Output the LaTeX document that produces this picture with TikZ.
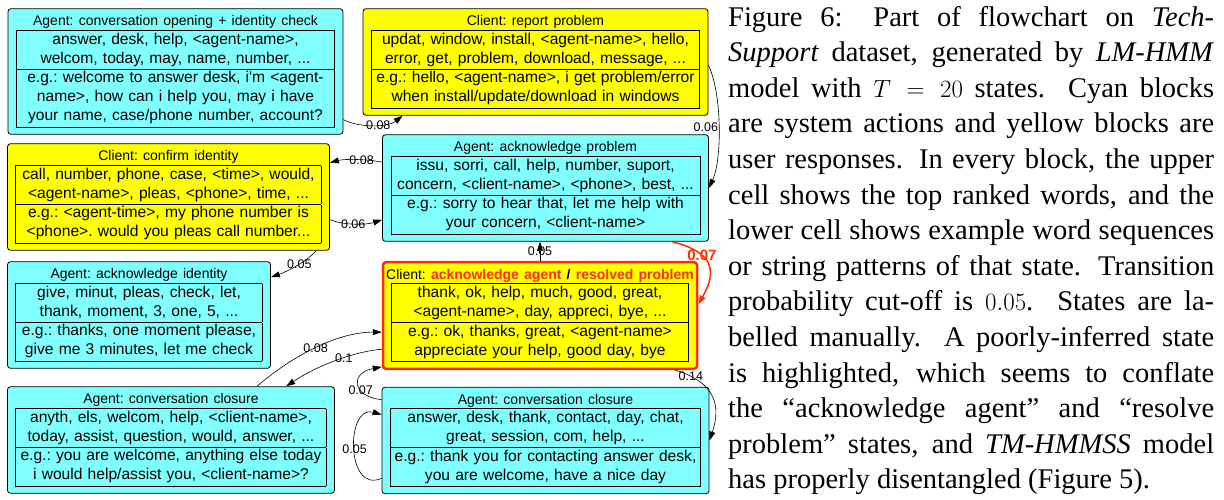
\documentclass[tikz,border=0pt]{standalone}
\usepackage{fontspec}
\setmainfont{Liberation Serif}
\newfontfamily\boxfont{Liberation Sans}
\usepackage{array}
\usetikzlibrary{arrows.meta}

\definecolor{agentcyan}{RGB}{128,255,255}
\definecolor{clientyellow}{RGB}{255,255,0}
\definecolor{flagred}{RGB}{255,45,0}

\setlength{\arrayrulewidth}{0.8pt}
\setlength{\tabcolsep}{1pt}

% title line + two-cell word table of one state
\newcommand{\statecells}[3]{\makebox[\linewidth]{\fontsize{14}{14}\selectfont\rule[-3pt]{0pt}{13.2pt}#1}\\
  \begin{tabular}{|>{\centering\arraybackslash\leftskip=-6pt plus 1fil\rightskip=-6pt plus 1fil}p{\dimexpr\linewidth-2\tabcolsep-2\arrayrulewidth\relax}|}
  \hline #2\\ \hline #3\\ \hline
  \end{tabular}}

\begin{document}
\begin{tikzpicture}[x=1pt, y=-1pt,
agent/.style={draw, fill=agentcyan, rounded corners=3pt, line width=0.8pt, inner xsep=8pt, inner ysep=7pt, align=center, font=\boxfont\frenchspacing\fontsize{15.6}{19}\selectfont},
client/.style={agent, fill=clientyellow},
flagged/.style={client, draw=flagred, line width=2.5pt},
link/.style={-{Triangle[length=9pt,width=6pt]}, line width=0.6pt},
prob/.style={font=\boxfont\fontsize{12.5}{12.5}\selectfont, inner sep=0.5pt},
caption/.style={text width=486pt, align=justify, inner sep=0pt, font=\fontsize{28.5}{35.6}\selectfont},
]
\useasboundingbox (0,0) rectangle (1224,499);

% left column
\node[agent, text width=319pt] (opening) at (175.5,71.5) {\statecells{Agent: conversation opening + identity check}
  {answer, desk, help, <agent-name>,\linebreak welcom, today, may, name, number, ...}
  {e.g.: welcome to answer desk, i'm <agent-\linebreak name>, how can i help you, may i have\linebreak your name, case/phone number, account?}};
\node[client, text width=306pt] (confirm) at (168.5,197) {\statecells{Client: confirm identity}
  {call, number, phone, case, <time>, would,\linebreak <agent-name>, pleas, <phone>, time, ...}
  {e.g.: <agent-time>, my phone number is\linebreak <phone>. would you pleas call number...}};
\node[agent, text width=247pt] (ackid) at (139,315) {\statecells{Agent: acknowledge identity}
  {give, minut, pleas, check, let,\linebreak thank, moment, 3, one, 5, ...}
  {e.g.: thanks, one moment please,\linebreak give me 3 minutes, let me check}};
\node[agent, text width=311pt] (closeA) at (171,440) {\statecells{Agent: conversation closure}
  {anyth, els, welcom, help, <client-name>,\linebreak today, assist, question, would, answer, ...}
  {e.g.: you are welcome, anything else today\linebreak i would help/assist you, <client-name>?}};

% right column
\node[client, text width=329pt] (report) at (535.5,62) {\statecells{Client: report problem}
  {updat, window, install, <agent-name>, hello,\linebreak error, get, problem, download, message, ...}
  {e.g.: hello, <agent-name>, i get problem/error\linebreak when install/update/download in windows}};
\node[agent, text width=310pt] (ackprob) at (545.5,188) {\statecells{Agent: acknowledge problem}
  {issu, sorri, call, help, number, suport,\linebreak concern, <client-name>, <phone>, best, ...}
  {e.g.: sorry to hear that, let me help with\linebreak your concern, <client-name>}};
\node[flagged, text width=298pt] (ackagent) at (540,315.5) {\statecells{Client: \textcolor{flagred}{\bfseries acknowledge agent} {\bfseries /} \textcolor{flagred}{\bfseries resolved problem}}
  {thank, ok, help, much, good, great,\linebreak <agent-name>, day, appreci, bye, ...}
  {e.g.: ok, thanks, great, <agent-name>\linebreak appreciate your help, good day, bye}};
\node[agent, text width=311pt] (closeB) at (545.5,440.5) {\statecells{Agent: conversation closure}
  {answer, desk, thank, contact, day, chat,\linebreak great, session, com, help, ...}
  {e.g.: thank you for contacting answer desk,\linebreak you are welcome, have a nice day}};

% transitions
\draw[link] (opening.-16) .. controls +(15,8) and +(-15,12) .. node[prob, pos=0.58] {0.08} (report.-158);
\draw[link] (report.-1) .. controls +(14,30) and +(13,-28) .. node[prob, left] {0.06} (ackprob.east);
\draw[link] (ackprob.171) .. controls +(-15,-3) and +(15,-4) .. node[prob, pos=0.4] {0.08} (confirm.12);
\draw[link] (confirm.-8) .. controls +(15,6) and +(-15,5) .. node[prob, pos=0.45] {0.06} (ackprob.-169);
\draw[link] (confirm.-20) .. controls +(-10,12) and +(12,-4) .. node[prob, pos=0.4] {0.05} (ackid.16);
\draw[link] (ackagent.north) -- node[prob] {0.05} (ackagent.north |- ackprob.south);
\draw[link, flagred, line width=1.5pt] (ackprob.-23) .. controls +(40,10) and +(20,-35) .. node[prob, pos=0.35, text=flagred, font=\boxfont\bfseries\fontsize{15}{15}\selectfont] {0.07} (ackagent.4);
\draw[link] (closeA.32) .. controls +(35,-30) and +(-45,0) .. node[prob] {0.08} (ackagent.-174);
\draw[link] (ackagent.-168) .. controls +(-30,3) and +(30,-20) .. node[prob, pos=0.4] {0.1} (closeA.25);
\draw[link] (closeB.166) .. controls +(-30,-3) and +(-32,6) .. node[prob, pos=0.35] {0.07} (ackagent.-162);
\draw[link] (closeB.-167) .. controls +(-36,16) and +(-36,-10) .. node[prob] {0.05} (closeB.171);
\draw[link] (ackagent.-22) .. controls +(40,12) and +(12,-35) .. node[prob, pos=0.15] {0.14} (closeB.east);

% caption text
\node[caption, anchor=base west] (note) at (728,26) {Figure 6: Part of flowchart on \textit{Tech-}\linebreak
\textit{Support} dataset, generated by \textit{LM-HMM}\linebreak
model with $T = 20$ states. Cyan blocks\linebreak
are system actions and yellow blocks are\linebreak
user responses. In every block, the upper\linebreak
cell shows the top ranked words, and the\linebreak
lower cell shows example word sequences\linebreak
or string patterns of that state. Transition\linebreak
probability cut-off is $0.05$. States are la-\linebreak
belled manually. A poorly-inferred state\linebreak
is highlighted, which seems to conflate\linebreak
the ``acknowledge agent'' and ``resolve\linebreak
problem'' states, and \textit{TM-HMMSS} model\linebreak
has properly disentangled (Figure 5).};

\end{tikzpicture}
\end{document}
